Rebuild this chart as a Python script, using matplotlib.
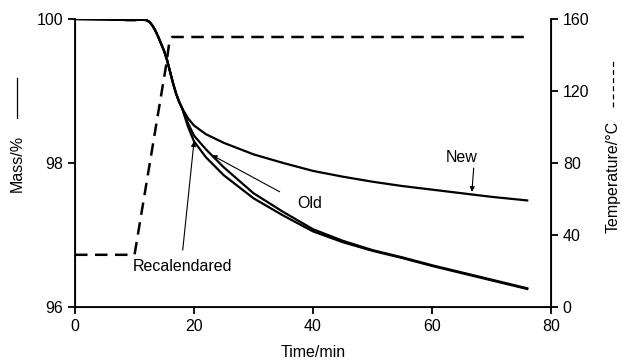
import numpy as np
import matplotlib
matplotlib.use("Agg")
import matplotlib.pyplot as plt

plt.rcParams['font.family'] = ['Liberation Sans', 'DejaVu Sans']

# donnees
t_common = [0, 5, 9, 10, 11, 12, 12.5, 13, 13.5, 14, 14.5, 15, 15.5, 16, 16.5, 17, 17.5, 18]
m_common = [100, 99.995, 99.985, 99.985, 99.99, 99.985, 99.96, 99.91, 99.84, 99.75, 99.65, 99.55,
            99.42, 99.26, 99.1, 98.96, 98.85, 98.76]

t_new = [19, 20, 22, 25, 30, 35, 40, 45, 50, 55, 60, 65, 70, 76]
m_new = [98.62, 98.52, 98.4, 98.28, 98.12, 98.0, 97.89, 97.81, 97.74, 97.68, 97.63, 97.58, 97.53, 97.48]

t_old = [19, 20, 22, 25, 30, 35, 40, 45, 50, 55, 60, 65, 70, 76]
m_old = [98.55, 98.38, 98.19, 97.94, 97.58, 97.32, 97.08, 96.92, 96.79, 96.69, 96.58, 96.48, 96.38, 96.26]

t_recal = [19, 20, 22, 25, 30, 35, 40, 45, 50, 55, 60, 65, 70, 76]
m_recal = [98.5, 98.3, 98.08, 97.83, 97.51, 97.27, 97.05, 96.9, 96.78, 96.68, 96.57, 96.47, 96.37, 96.25]

t_temp = [0, 10, 15.4, 15.8, 16.3, 75.5]
temp = [29, 29, 136, 146, 150, 150]

fs = 11.5
fig = plt.figure(figsize=(6.22, 3.64), dpi=100)
ax = fig.add_axes([0.1206, 0.1566, 0.7653, 0.7912])
ax2 = ax.twinx()

for tt, mm in [(t_new, m_new), (t_old, m_old), (t_recal, m_recal)]:
    ax.plot(t_common + tt, m_common + mm, color='black', lw=1.6)

ax2.plot(t_temp, temp, color='black', lw=1.8, dashes=[5, 3])

ax.set_xlim(0, 80)
ax.set_ylim(96, 100)
ax2.set_ylim(0, 160)
ax.set_xticks([0, 20, 40, 60, 80])
ax.set_yticks([96, 98, 100])
ax2.set_yticks([0, 40, 80, 120, 160])
ax.spines['top'].set_visible(False)
ax2.spines['top'].set_visible(False)
for sp in ['left', 'bottom']:
    ax.spines[sp].set_linewidth(1.3)
ax2.spines['right'].set_linewidth(1.3)
ax.tick_params(labelsize=fs, width=1.3, length=5)
ax2.tick_params(labelsize=fs, width=1.3, length=5)

ax.set_xlabel('Time/min', fontsize=fs, labelpad=8)

# labels des axes y avec leur trait
fig.text(0.027, 0.552, 'Mass/%', rotation=90, fontsize=fs, ha='center', va='center')
fig.add_artist(plt.Line2D([0.027, 0.027], [0.676, 0.786], color='black', lw=0.9))
fig.text(0.985, 0.515, 'Temperature/°C', rotation=90, fontsize=fs, ha='center', va='center')
fig.add_artist(plt.Line2D([0.985, 0.985], [0.706, 0.835], color='black', lw=0.9, dashes=[4, 2.5]))

arrow = dict(arrowstyle='-|>', color='black', lw=0.8, mutation_scale=7, shrinkA=0, shrinkB=0)
ax.annotate('', xy=(20.0, 98.30), xytext=(18.1, 96.79), arrowprops=arrow)
ax.text(18.0, 96.56, 'Recalendared', fontsize=fs, ha='center', va='center')
ax.annotate('', xy=(23.0, 98.11), xytext=(34.4, 97.6), arrowprops=arrow)
ax.text(39.5, 97.44, 'Old', fontsize=fs, ha='center', va='center')
ax.annotate('', xy=(66.7, 97.6), xytext=(67.0, 97.93), arrowprops=arrow)
ax.text(65.0, 98.08, 'New', fontsize=fs, ha='center', va='center')

fig.savefig('out.png', dpi=100)
